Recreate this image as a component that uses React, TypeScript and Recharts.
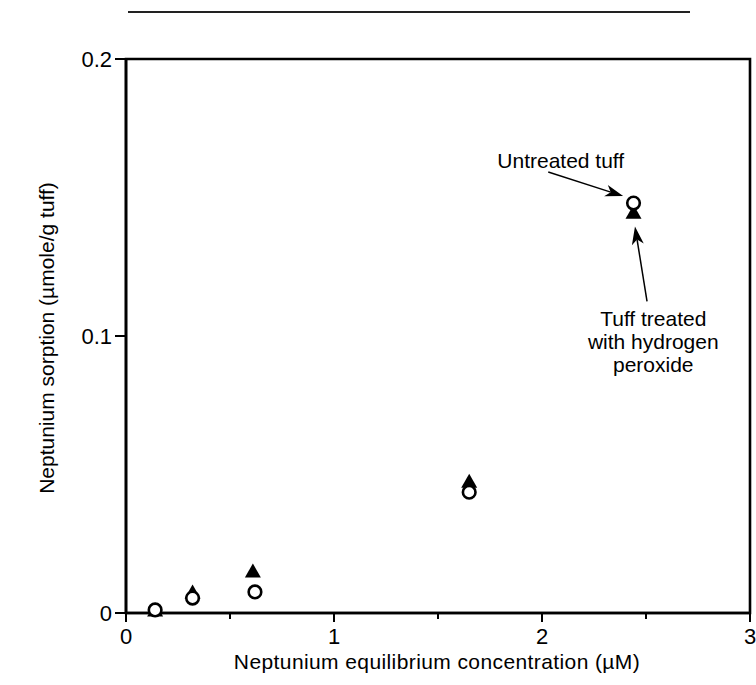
import React from 'react';
import {
  ScatterChart, Scatter, XAxis, YAxis, ReferenceArea, ReferenceLine, ReferenceDot,
} from 'recharts';

// concentrations (µM) and sorption (µmole/g tuff)
const untreatedX = [0.14, 0.32, 0.62, 1.65, 2.44];
const untreatedY = [0.0011, 0.0054, 0.0076, 0.0436, 0.148];
const treatedX = [0.14, 0.32, 0.61, 1.65, 2.44];
const treatedY = [0.0007, 0.0072, 0.0148, 0.0472, 0.1443];

const xTicks = [0, 0.5, 1, 1.5, 2, 2.5, 3];
const yTicks = [0, 0.1, 0.2];

const untreated = untreatedX.map((x, i) => ({ x, y: untreatedY[i] }));
const treated = treatedX.map((x, i) => ({ x, y: treatedY[i] }));

const FONT = '"Liberation Sans", Arial, sans-serif';

const OpenCircle = (p: any) => (
  <circle cx={p.cx} cy={p.cy} r={6.3} fill="#fff" stroke="#000" strokeWidth={2.6} />
);

const FilledTriangle = (p: any) => (
  <path d={`M${p.cx},${p.cy - 8.5} L${p.cx - 8},${p.cy + 5.5} L${p.cx + 8},${p.cy + 5.5} Z`} fill="#000" />
);

const XTick = (p: any) => {
  const v = p.payload.value;
  const major = Number.isInteger(v);
  return (
    <g>
      <line x1={p.x} y1={p.y} x2={p.x} y2={p.y + (major ? 9 : 6)} stroke="#000" strokeWidth={2} />
      {major && (
        <text x={p.x} y={p.y + 31} textAnchor="middle" fontSize={22} fontFamily={FONT} fill="#000">{v}</text>
      )}
    </g>
  );
};

const YTick = (p: any) => (
  <g>
    <line x1={p.x} y1={p.y} x2={p.x - 11} y2={p.y} stroke="#000" strokeWidth={2} />
    <text x={p.x - 14} y={p.y + 8} textAnchor="end" fontSize={22} fontFamily={FONT} fill="#000">{p.payload.value}</text>
  </g>
);

const Arrow = (p: any) => {
  const { x1, y1, x2, y2 } = p;
  const dx = x2 - x1, dy = y2 - y1;
  const len = Math.hypot(dx, dy);
  const ux = dx / len, uy = dy / len;
  const nx = -uy, ny = ux;
  const hl = 18, hw = 6, notch = 13;
  const bx = x2 - ux * hl, by = y2 - uy * hl;
  const kx = x2 - ux * notch, ky = y2 - uy * notch;
  return (
    <g>
      <line x1={x1} y1={y1} x2={kx} y2={ky} stroke="#000" strokeWidth={1.5} />
      <path d={`M${x2},${y2} L${bx + nx * hw},${by + ny * hw} L${kx},${ky} L${bx - nx * hw},${by - ny * hw} Z`} fill="#000" />
    </g>
  );
};

const textLabel = (lines: string[]) => (p: any) => {
  const vb = p.viewBox || {};
  const cx = vb.x + (vb.width || 0) / 2;
  const cy = vb.y + (vb.height || 0) / 2;
  return (
    <text x={cx} y={cy} textAnchor="middle" fontSize={21} fontFamily={FONT} fill="#000">
      {lines.map((l, i) => (
        <tspan key={i} x={cx} dy={i === 0 ? 0 : 23}>{l}</tspan>
      ))}
    </text>
  );
};

export default function App() {
  return (
    <div style={{ position: 'absolute', left: 0, top: 0, width: 756, height: 685, background: '#fff', fontFamily: FONT }}>
      <div style={{ position: 'absolute', left: 128, top: 11, width: 562, height: 2, background: '#222' }} />
      <ScatterChart width={756} height={685} margin={{ top: 59, right: 6, bottom: 32, left: 66 }}>
        <XAxis
          type="number" dataKey="x" domain={[0, 3]} ticks={xTicks} interval={0}
          axisLine={{ stroke: '#000', strokeWidth: 2.6 }} tickLine={false} tickSize={0} tickMargin={0}
          tick={<XTick />} height={40}
          label={{
            content: () => (
              <text x={437} y={669} textAnchor="middle" fontSize={21} letterSpacing={0.4} fontFamily={FONT} fill="#000">
                Neptunium equilibrium concentration (µM)
              </text>
            ),
          }}
        />
        <YAxis
          type="number" dataKey="y" domain={[0, 0.2]} ticks={yTicks} interval={0}
          axisLine={{ stroke: '#000', strokeWidth: 2.6 }} tickLine={false} tickSize={0} tickMargin={0}
          tick={<YTick />} width={60}
          label={{
            content: () => (
              <text x={54} y={338} transform="rotate(-90 54 338)" textAnchor="middle" fontSize={21} fontFamily={FONT} fill="#000">
                Neptunium sorption (µmole/g tuff)
              </text>
            ),
          }}
        />
        <ReferenceArea x1={0} x2={3} y1={0} y2={0.2} fill="none" stroke="#000" strokeWidth={2.6} />
        <ReferenceLine segment={[{ x: 2.03, y: 0.1592 }, { x: 2.39, y: 0.1505 }]} shape={(p: any) => <Arrow {...p} />} />
        <ReferenceLine segment={[{ x: 2.505, y: 0.1125 }, { x: 2.447, y: 0.1395 }]} shape={(p: any) => <Arrow {...p} />} />
        <ReferenceDot x={2.09} y={0.1608} r={0} fill="none" stroke="none" label={{ content: textLabel(['Untreated tuff']) }} />
        <ReferenceDot x={2.535} y={0.1036} r={0} fill="none" stroke="none" label={{ content: textLabel(['Tuff treated', 'with hydrogen', 'peroxide']) }} />
        <Scatter data={treated} shape={<FilledTriangle />} isAnimationActive={false} />
        <Scatter data={untreated} shape={<OpenCircle />} isAnimationActive={false} />
      </ScatterChart>
    </div>
  );
}
